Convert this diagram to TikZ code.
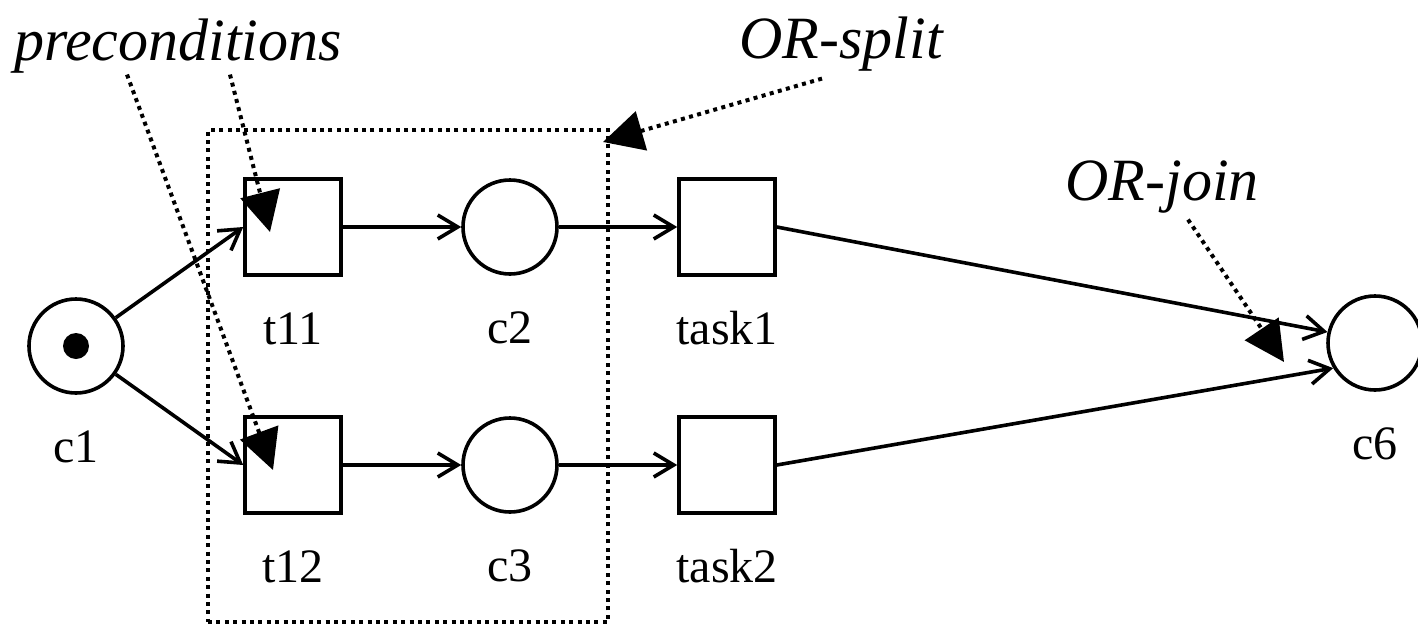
\documentclass[tikz,border=0pt]{standalone}
\usepackage{fontspec}
\setmainfont{Liberation Serif}
\usetikzlibrary{arrows.meta,positioning}

\begin{document}
\begin{tikzpicture}[x=0.5pt,y=-0.5pt,line width=1.8pt,
  place/.style={draw,circle,minimum size=47pt,inner sep=0pt},
  trans/.style={draw,rectangle,minimum size=48pt,inner sep=0pt},
  lbl/.style={font=\fontsize{24pt}{28pt}\selectfont,text height=16pt,text depth=0pt,inner sep=0pt},
  note/.style={font=\fontsize{30pt}{35pt}\selectfont\itshape,inner sep=0pt,anchor=base},
  arc/.style={-{Straight Barb[length=10pt,width=12pt]}},
  dots/.style={line width=2pt,dash pattern=on 2pt off 2.2pt},
  hint/.style={dots,-{Triangle[length=20pt,width=20pt]}},
  label distance=17pt]
\useasboundingbox (0,0) rectangle (1418,627);
\node (orbox) [draw,dots,minimum width=200pt,minimum height=246pt,inner sep=0pt] at (408,376) {};
\node (c1) [place,label={[lbl]below:c1}] at (76,346) {};
\node (token) [circle,fill,minimum size=13pt,inner sep=0pt] at (c1) {};
\node (t11) [trans,label={[lbl]below:t11}] at (293,227) {};
\node (t12) [trans,label={[lbl]below:t12}] at (293,465) {};
\node (c2) [place,label={[lbl]below:c2}] at (510,227) {};
\node (c3) [place,label={[lbl]below:c3}] at (510,465) {};
\node (task1) [trans,label={[lbl]below:task1}] at (727,227) {};
\node (task2) [trans,label={[lbl]below:task2}] at (727,465) {};
\node (c6) [place,label={[lbl]below:c6}] at (1375,343) {};
\node (pre) [note] at (178,60) {preconditions};
\node (split) [note] at (841,58) {OR-split};
\node (join) [note] at (1162,200) {OR-join};
\coordinate (joinpt) at (1284,362);
\draw [arc] (c1) -- (t11.west);
\draw [arc] (c1) -- (t12.west);
\draw [arc] (t11) -- (c2);
\draw [arc] (t12) -- (c3);
\draw [arc] (c2) -- (task1);
\draw [arc] (c3) -- (task2);
\draw [arc] (task1.east) -- (c6.167);
\draw [arc] (task2.east) -- (c6.211);
\draw [hint] ([xshift=26pt]pre.south) -- ([xshift=-11.5pt,yshift=-2.5pt]t11.center);
\draw [hint] ([xshift=-25.5pt]pre.south) -- ([xshift=-10pt,yshift=-2.5pt]t12.center);
\draw [hint] ([xshift=-9.5pt,yshift=-3pt]split.south) -- ([xshift=-3.5pt,yshift=-7pt]orbox.north east);
\draw [hint] ([xshift=13pt,yshift=-2.5pt]join.south) -- (joinpt);
\end{tikzpicture}
\end{document}
